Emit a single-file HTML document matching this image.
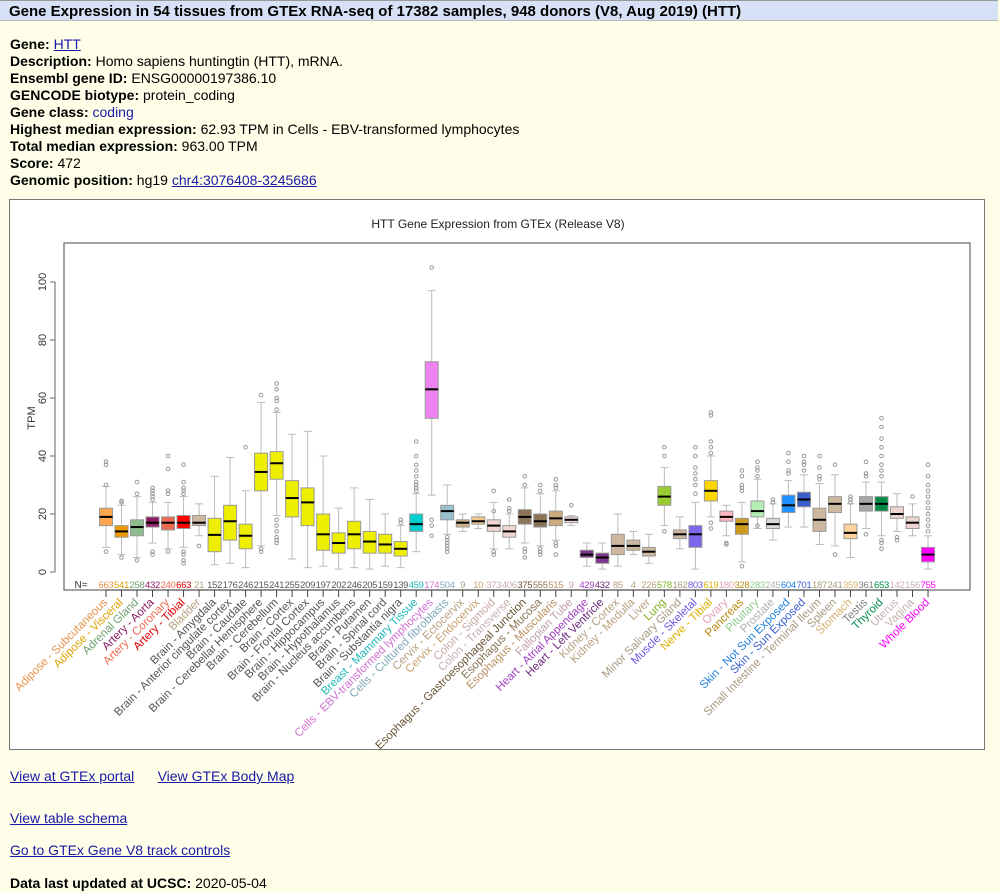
<!DOCTYPE html>
<html><head><meta charset="utf-8"><style>
body{margin:0;background:#FFFEE8;font-family:"Liberation Sans",Arial,sans-serif;width:1000px;height:893px;overflow:hidden;position:relative}
.hd{position:absolute;left:0;top:0;width:998px;height:21px;background:#D6E1F5;border-top:1px solid #999;border-bottom:1px solid #BBB;font-weight:bold;font-size:15px;line-height:22px;padding-left:9px;box-sizing:border-box}
.l{position:absolute;left:10px;font-size:14px;white-space:nowrap}
a{color:#1a1aa6}
.ch{position:absolute;left:9px;top:199px;width:976px;height:551px;background:#fff;border:1px solid #777;box-sizing:border-box}
</style></head><body>
<div class="hd">Gene Expression in 54 tissues from GTEx RNA-seq of 17382 samples, 948 donors (V8, Aug 2019) (HTT)</div>
<div class="l" style="top:36px"><b>Gene:</b> <a href="#">HTT</a></div>
<div class="l" style="top:53px"><b>Description:</b> Homo sapiens huntingtin (HTT), mRNA.</div>
<div class="l" style="top:70px"><b>Ensembl gene ID:</b> ENSG00000197386.10</div>
<div class="l" style="top:87px"><b>GENCODE biotype:</b> protein_coding</div>
<div class="l" style="top:104px"><b>Gene class:</b> <span style="color:#1a1aa6">coding</span></div>
<div class="l" style="top:121px"><b>Highest median expression:</b> 62.93 TPM in Cells - EBV-transformed lymphocytes</div>
<div class="l" style="top:138px"><b>Total median expression:</b> 963.00 TPM</div>
<div class="l" style="top:155px"><b>Score:</b> 472</div>
<div class="l" style="top:172px"><b>Genomic position:</b> hg19 <a href="#">chr4:3076408-3245686</a></div>
<div class="ch"></div>
<svg id="s" style="position:absolute;left:0;top:0" width="1000" height="893" font-family="Liberation Sans,Arial,sans-serif">
<text x="498" y="228" font-size="12" text-anchor="middle" fill="#222">HTT Gene Expression from GTEx (Release V8)</text>
<rect x="64" y="243" width="906" height="347" fill="none" stroke="#666" stroke-width="1.2"/>
<line x1="55" y1="282" x2="55" y2="572" stroke="#666"/>
<g stroke="#666"><line x1="50" y1="572" x2="55" y2="572"/><line x1="50" y1="514" x2="55" y2="514"/><line x1="50" y1="456" x2="55" y2="456"/><line x1="50" y1="398" x2="55" y2="398"/><line x1="50" y1="340" x2="55" y2="340"/><line x1="50" y1="282" x2="55" y2="282"/></g>
<g font-size="11" fill="#333" text-anchor="middle">
<text transform="translate(46,572) rotate(-90)">0</text>
<text transform="translate(46,514) rotate(-90)">20</text>
<text transform="translate(46,456) rotate(-90)">40</text>
<text transform="translate(46,398) rotate(-90)">60</text>
<text transform="translate(46,340) rotate(-90)">80</text>
<text transform="translate(46,282) rotate(-90)">100</text>
<text transform="translate(35,418) rotate(-90)">TPM</text>
</g>
<g id="bx"></g>
<text x="81" y="588" font-size="10" fill="#333" text-anchor="middle">N=</text>
<g id="nn" font-size="9.5" text-anchor="middle" letter-spacing="-0.3">
<text x="106.0" y="588" fill="#E8924A">663</text><text x="121.5" y="588" fill="#E0A000">541</text><text x="137.0" y="588" fill="#6FA06F">258</text><text x="152.5" y="588" fill="#8B1C62">432</text><text x="168.0" y="588" fill="#EE6A50">240</text><text x="183.6" y="588" fill="#E00000">663</text><text x="199.1" y="588" fill="#B8A080">21</text>
<text x="214.6" y="588" fill="#555">152</text><text x="230.1" y="588" fill="#555">176</text><text x="245.6" y="588" fill="#555">246</text><text x="261.1" y="588" fill="#555">215</text><text x="276.6" y="588" fill="#555">241</text><text x="292.1" y="588" fill="#555">255</text><text x="307.6" y="588" fill="#555">209</text><text x="323.1" y="588" fill="#555">197</text><text x="338.7" y="588" fill="#555">202</text><text x="354.2" y="588" fill="#555">246</text><text x="369.7" y="588" fill="#555">205</text><text x="385.2" y="588" fill="#555">159</text><text x="400.7" y="588" fill="#555">139</text>
<text x="416.2" y="588" fill="#20B8B8">459</text><text x="431.7" y="588" fill="#D070D0">174</text><text x="447.2" y="588" fill="#80A8B8">504</text><text x="462.7" y="588" fill="#B8A080">9</text><text x="478.2" y="588" fill="#C8A070">10</text><text x="493.8" y="588" fill="#C8A8A8">373</text><text x="509.3" y="588" fill="#C8B0B0">406</text><text x="524.8" y="588" fill="#6B5535">375</text><text x="540.3" y="588" fill="#8B7355">555</text><text x="555.8" y="588" fill="#B89060">515</text><text x="571.3" y="588" fill="#C0A0A8">9</text>
<text x="586.8" y="588" fill="#A040C0">429</text><text x="602.3" y="588" fill="#6A2A7B">432</text><text x="617.8" y="588" fill="#B8A080">85</text><text x="633.3" y="588" fill="#B8A080">4</text><text x="648.9" y="588" fill="#B8A080">226</text><text x="664.4" y="588" fill="#80B020">578</text><text x="679.9" y="588" fill="#A89880">162</text><text x="695.4" y="588" fill="#6A57DE">803</text><text x="710.9" y="588" fill="#D8B000">619</text><text x="726.4" y="588" fill="#E0A0B0">180</text><text x="741.9" y="588" fill="#B88A10">328</text><text x="757.4" y="588" fill="#90CC90">283</text><text x="772.9" y="588" fill="#B0B0B0">245</text><text x="788.4" y="588" fill="#1E80E0">604</text><text x="804.0" y="588" fill="#3A5FCD">701</text><text x="819.5" y="588" fill="#A89880">187</text><text x="835.0" y="588" fill="#A89880">241</text><text x="850.5" y="588" fill="#D8B070">359</text><text x="866.0" y="588" fill="#808080">361</text><text x="881.5" y="588" fill="#008B45">653</text><text x="897.0" y="588" fill="#C8B0B0">142</text><text x="912.5" y="588" fill="#C8B0B0">156</text><text x="928.0" y="588" fill="#FF00FF">755</text>
</g>
<g id="lb" font-size="11.5" text-anchor="end">
<text transform="translate(108,603) rotate(-45)" fill="#E8924A">Adipose - Subcutaneous</text>
<text transform="translate(123.5,603) rotate(-45)" fill="#E0A000">Adipose - Visceral</text>
<text transform="translate(139,603) rotate(-45)" fill="#6FA06F">Adrenal Gland</text>
<text transform="translate(154.5,603) rotate(-45)" fill="#8B1C62">Artery - Aorta</text>
<text transform="translate(170,603) rotate(-45)" fill="#EE6A50">Artery - Coronary</text>
<text transform="translate(185.6,603) rotate(-45)" fill="#E00000">Artery - Tibial</text>
<text transform="translate(201.1,603) rotate(-45)" fill="#B8A080">Bladder</text>
<text transform="translate(216.6,603) rotate(-45)" fill="#555">Brain - Amygdala</text>
<text transform="translate(232.1,603) rotate(-45)" fill="#555">Brain - Anterior cingulate cortex</text>
<text transform="translate(247.6,603) rotate(-45)" fill="#555">Brain - Caudate</text>
<text transform="translate(263.1,603) rotate(-45)" fill="#555">Brain - Cerebellar Hemisphere</text>
<text transform="translate(278.6,603) rotate(-45)" fill="#555">Brain - Cerebellum</text>
<text transform="translate(294.1,603) rotate(-45)" fill="#555">Brain - Cortex</text>
<text transform="translate(309.6,603) rotate(-45)" fill="#555">Brain - Frontal Cortex</text>
<text transform="translate(325.1,603) rotate(-45)" fill="#555">Brain - Hippocampus</text>
<text transform="translate(340.7,603) rotate(-45)" fill="#555">Brain - Hypothalamus</text>
<text transform="translate(356.2,603) rotate(-45)" fill="#555">Brain - Nucleus accumbens</text>
<text transform="translate(371.7,603) rotate(-45)" fill="#555">Brain - Putamen</text>
<text transform="translate(387.2,603) rotate(-45)" fill="#555">Brain - Spinal cord</text>
<text transform="translate(402.7,603) rotate(-45)" fill="#555">Brain - Substantia nigra</text>
<text transform="translate(418.2,603) rotate(-45)" fill="#20B8B8">Breast - Mammary Tissue</text>
<text transform="translate(433.7,603) rotate(-45)" fill="#D070D0">Cells - EBV-transformed lymphocytes</text>
<text transform="translate(449.2,603) rotate(-45)" fill="#80A8B8">Cells - Cultured fibroblasts</text>
<text transform="translate(464.7,603) rotate(-45)" fill="#B8A080">Cervix - Ectocervix</text>
<text transform="translate(480.2,603) rotate(-45)" fill="#C8A070">Cervix - Endocervix</text>
<text transform="translate(495.8,603) rotate(-45)" fill="#C8A8A8">Colon - Sigmoid</text>
<text transform="translate(511.3,603) rotate(-45)" fill="#C8B0B0">Colon - Transverse</text>
<text transform="translate(526.8,603) rotate(-45)" fill="#6B5535">Esophagus - Gastroesophageal Junction</text>
<text transform="translate(542.3,603) rotate(-45)" fill="#8B7355">Esophagus - Mucosa</text>
<text transform="translate(557.8,603) rotate(-45)" fill="#B89060">Esophagus - Muscularis</text>
<text transform="translate(573.3,603) rotate(-45)" fill="#C0A0A8">Fallopian Tube</text>
<text transform="translate(588.8,603) rotate(-45)" fill="#A040C0">Heart - Atrial Appendage</text>
<text transform="translate(604.3,603) rotate(-45)" fill="#6A2A7B">Heart - Left Ventricle</text>
<text transform="translate(619.8,603) rotate(-45)" fill="#B8A080">Kidney - Cortex</text>
<text transform="translate(635.3,603) rotate(-45)" fill="#B8A080">Kidney - Medulla</text>
<text transform="translate(650.9,603) rotate(-45)" fill="#B8A080">Liver</text>
<text transform="translate(666.4,603) rotate(-45)" fill="#80B020">Lung</text>
<text transform="translate(681.9,603) rotate(-45)" fill="#A89880">Minor Salivary Gland</text>
<text transform="translate(697.4,603) rotate(-45)" fill="#6A57DE">Muscle - Skeletal</text>
<text transform="translate(712.9,603) rotate(-45)" fill="#D8B000">Nerve - Tibial</text>
<text transform="translate(728.4,603) rotate(-45)" fill="#E0A0B0">Ovary</text>
<text transform="translate(743.9,603) rotate(-45)" fill="#B88A10">Pancreas</text>
<text transform="translate(759.4,603) rotate(-45)" fill="#90CC90">Pituitary</text>
<text transform="translate(774.9,603) rotate(-45)" fill="#B0B0B0">Prostate</text>
<text transform="translate(790.4,603) rotate(-45)" fill="#1E80E0">Skin - Not Sun Exposed</text>
<text transform="translate(806,603) rotate(-45)" fill="#3A5FCD">Skin - Sun Exposed</text>
<text transform="translate(821.5,603) rotate(-45)" fill="#A89880">Small Intestine - Terminal Ileum</text>
<text transform="translate(837,603) rotate(-45)" fill="#A89880">Spleen</text>
<text transform="translate(852.5,603) rotate(-45)" fill="#D8B070">Stomach</text>
<text transform="translate(868,603) rotate(-45)" fill="#808080">Testis</text>
<text transform="translate(883.5,603) rotate(-45)" fill="#008B45">Thyroid</text>
<text transform="translate(899,603) rotate(-45)" fill="#C8B0B0">Uterus</text>
<text transform="translate(914.5,603) rotate(-45)" fill="#C8B0B0">Vagina</text>
<text transform="translate(930,603) rotate(-45)" fill="#FF00FF">Whole Blood</text>
</g>
</svg>
<div class="l" style="top:768px"><a href="#">View at GTEx portal</a>&nbsp;&nbsp;&nbsp;&nbsp;&nbsp; <a href="#">View GTEx Body Map</a></div>
<div class="l" style="top:810px"><a href="#">View table schema</a></div>
<div class="l" style="top:842px"><a href="#">Go to GTEx Gene V8 track controls</a></div>
<div class="l" style="top:875px"><b>Data last updated at UCSC:</b> 2020-05-04</div>
<script>
var D=[
["#FFA54F",19,16,22,8.5,29.5,[30,37,38,7]],
["#EE9A00",14,12,16,6,23,[24,24.5,5]],
["#8FBC8F",15.5,12.5,18,5,26,[27,31,4]],
["#8B1C62",17,15.5,19,10,24,[25,26,27,28,29,7,6]],
["#EE6A50",17,14.5,19,8,24,[27,28,35.5,40,7]],
["#FF0000",17,15,19.5,8.5,26,[27,28,29,31,37,7,6,4,3]],
["#CDB79E",17,16,19.5,12.5,23.5,[9]],
["#EEEE00",12.8,7,18.5,2.5,33,[]],
["#EEEE00",17.5,11,23,3,39.5,[]],
["#EEEE00",12.5,8,16.5,1.5,28,[43]],
["#EEEE00",34.5,28,41,9,58.5,[61,8,7]],
["#EEEE00",37.5,32,41.5,19.5,55,[56,59,60,63,65,18,16,14,12,11,10]],
["#EEEE00",25.5,19,31.5,4.5,47.5,[]],
["#EEEE00",24,16,29,1.5,48.5,[]],
["#EEEE00",13,7.5,20,2,40,[]],
["#EEEE00",10,6.5,13.5,1,22,[]],
["#EEEE00",13,8,17.5,1.5,29,[]],
["#EEEE00",10.5,6.5,14,1,25,[]],
["#EEEE00",9.5,6.5,13,2,20,[]],
["#EEEE00",8,5.5,10.5,1.5,16,[18,17]],
["#00CDCD",16.5,14,20,7,27,[28,29,30,31,33,35,37,40,45]],
["#EE82EE",63,53,72.5,26.5,97,[105,18,16,12.5]],
["#9AC0CD",21,18,23,13,30,[12,11,10,9,8,7]],
["#D2B48C",17,15.5,18,14,20,[]],
["#F4C98A",17.5,16.5,19,15,20,[]],
["#EED5D2",16,14,18,8,24,[28,21,7,6]],
["#EED5D2",14,12,16,8,20,[21,22,25]],
["#8B7355",19,16.5,21.5,10,29,[30,33,8,7,5]],
["#8B7355",17.5,15.5,20,9,27,[28,30,8,7,6]],
["#CDAA7D",18.5,16,21,11,28,[29,30,32,10,9,6]],
["#EED5D2",18,17,19,16,19.5,[23]],
["#7A378B",6,5,7.5,2,10,[]],
["#7A378B",5,3,6.5,1,10,[]],
["#CDB79E",9,6,13,2,20,[]],
["#CDB79E",9,7.5,11,6,14,[]],
["#CDB79E",7,5.5,8.5,3,13,[]],
["#9ACD32",26,23,29.5,16,36,[40,43,14]],
["#CDB79E",13,11.5,14.5,8,19,[]],
["#7A67EE",13,8.5,16,1,24,[27,30,32,34,36,40,43]],
["#FFD700",28,24.5,31.5,19,40,[41,43,45,54,55,17,15]],
["#FFB6C1",19,17.5,21,12.5,23,[10,9.5]],
["#CD9B1D",16.5,13,18.5,3.5,24,[28,29,30,33,35,2]],
["#B4EEB4",21,19,24.5,15,32,[33,35,36,38,16]],
["#D9D9D9",16.5,15,18.5,11,23.5,[24,25]],
["#1E90FF",23,20.5,26.5,15.5,31.5,[34,35,38,41]],
["#3A5FCD",25,22.5,27.5,15.5,33.5,[35,37,38,40]],
["#CDB79E",18,14,22,9.5,30.5,[32,33,36,40]],
["#CDB79E",23.5,20.5,26,9,33.5,[37,6]],
["#FFD39B",13.5,11.5,16.5,5,23.5,[24,25,26]],
["#A6A6A6",23.5,21,26,15,31,[33,34,38,13]],
["#008B45",23.5,21,26,12.5,31,[33,35,37,40,43,46,50,53,11,10,8]],
["#EED5D2",20,18.5,22.5,14,27,[12,11]],
["#EED5D2",17,15,19,12.5,23.5,[26]],
["#FF00FF",6,3.5,8.5,1,12.5,[14,16,18,20,22,24,26,28,30,33,37]]
];
var Y=function(v){return 572-2.9*v},h='';
D.forEach(function(d,i){var x=106+15.51*i,w=6.5;
h+='<line x1="'+x+'" y1="'+Y(d[4])+'" x2="'+x+'" y2="'+Y(d[5])+'" stroke="#BBB"/>';
h+='<line x1="'+(x-4)+'" y1="'+Y(d[4])+'" x2="'+(x+4)+'" y2="'+Y(d[4])+'" stroke="#BBB"/>';
h+='<line x1="'+(x-4)+'" y1="'+Y(d[5])+'" x2="'+(x+4)+'" y2="'+Y(d[5])+'" stroke="#BBB"/>';
h+='<rect x="'+(x-w)+'" y="'+Y(d[3])+'" width="'+2*w+'" height="'+(Y(d[2])-Y(d[3]))+'" fill="'+d[0]+'" stroke="#999"/>';
h+='<line x1="'+(x-w)+'" y1="'+Y(d[1])+'" x2="'+(x+w)+'" y2="'+Y(d[1])+'" stroke="#000" stroke-width="2"/>';
d[6].forEach(function(o){h+='<circle cx="'+x+'" cy="'+Y(o)+'" r="1.8" fill="none" stroke="#999"/>'});
h+='<line x1="'+x+'" y1="590" x2="'+x+'" y2="597" stroke="#444"/>';});
h+='<line x1="106" y1="590" x2="928" y2="590" stroke="#444"/>';
document.getElementById('bx').innerHTML=h;
</script>
</body></html>
